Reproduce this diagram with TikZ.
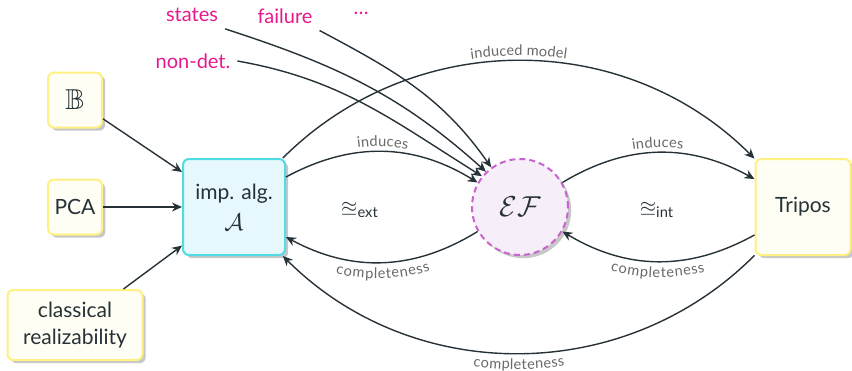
\documentclass[tikz,border=0pt]{standalone}
\usepackage{amsmath,amssymb}
\usepackage{fontspec}
\setmainfont{Lato}
\usepackage{tikz}
\usetikzlibrary{arrows.meta}
\usetikzlibrary{shadows}
\usetikzlibrary{decorations.text}
\definecolor{ink}{RGB}{38,50,56}
\definecolor{hint}{RGB}{230,25,140}
\definecolor{lblgray}{RGB}{105,105,105}
\definecolor{ylwline}{RGB}{255,240,130}
\definecolor{ylwfill}{RGB}{254,254,244}
\definecolor{cyanline}{RGB}{80,220,228}
\definecolor{cyanfill}{RGB}{230,248,252}
\definecolor{efline}{RGB}{200,100,205}
\definecolor{effill}{RGB}{246,238,248}
\newcommand{\lblfont}{\fontsize{7.3}{9}\selectfont}
\tikzset{
   boxshadow/.style={drop shadow={shadow xshift=1.6pt,shadow yshift=-1.6pt,
      fill=black!22,opacity=1}},
   srcbox/.style={draw=ylwline, fill=ylwfill, line width=1pt, rounded corners=3pt,
      text=ink, align=center, font=\fontsize{10.5}{12.5}\selectfont, boxshadow},
   algbox/.style={draw=cyanline, fill=cyanfill, line width=1pt, rounded corners=3pt,
      text=ink, align=center, minimum width=51pt, minimum height=48pt,
      font=\fontsize{10.5}{12.5}\selectfont, boxshadow},
   efnode/.style={circle, draw=efline, fill=effill, line width=1pt,
      dash pattern=on 3pt off 2pt, minimum size=48pt, text=ink,
      font=\Large, boxshadow},
   hintlbl/.style={text=hint, font=\fontsize{10}{12}\selectfont},
   link/.style={draw=ink, line width=0.7pt, -{Stealth[length=5pt,width=4.5pt]}},
   above text/.style={postaction={decorate, decoration={text along path,
      text={|\lblfont\color{lblgray}|#1}, text align=center, raise=2.5pt}}},
   below text/.style={decorate, decoration={text along path,
      text={|\lblfont\color{lblgray}|#1}, text align=center, raise=-8pt}},
}
\begin{document}
\begin{tikzpicture}[x=0.5pt,y=0.5pt]
\useasboundingbox (0,0) rectangle (852,-370);
% nodes
\node[srcbox, minimum width=27pt, minimum height=27.5pt] (bool) at (75,-100)
   {\Large$\mathbb{B}$};
\node[srcbox, minimum width=27pt, minimum height=27.5pt] (pca) at (75,-207) {PCA};
\node[srcbox, minimum width=67.5pt, minimum height=35pt] (classic) at (75,-325)
   {classical\\[1pt]realizability};
\node[algbox] (alg) at (234,-207) {imp. alg.\\[3pt]{\large$\mathcal{A}$}};
\node[efnode] (ef) at (520,-207) {$\mathcal{EF}$};
\node[srcbox, minimum width=47.5pt, minimum height=48pt] (tripos) at (803,-207) {Tripos};
% hints
\node[hintlbl] (states) at (192,-15) {states};
\node[hintlbl] (failure) at (285,-16) {failure};
\node[hintlbl] (dots) at (361,-13) {\dots};
\node[hintlbl] (nondet) at (193,-61) {non-det.};
% equivalences
\node[text=ink, font=\fontsize{10.5}{12}\selectfont] (eqext) at (360,-210) {$\approxeq_{\text{ext}}$};
\node[text=ink, font=\fontsize{10.5}{12}\selectfont] (eqint) at (657,-210) {$\approxeq_{\text{int}}$};
% inputs
\draw[link] (bool) -- (alg);
\draw[link] (pca) -- (alg);
\draw[link] (classic) -- (alg);
\draw[link] (states.south east) to[out=-18,in=138] (ef.134);
\draw[link] (failure.south east) to[out=-28,in=125] (ef.126);
\draw[link] (nondet.east) to[out=-10,in=148] (ef.141);
% arcs
\draw[link, above text=induces] (alg) to[bend left=30] (ef);
\draw[link, above text=induces] (ef) to[bend left=30] (tripos);
\draw[link, above text=induced model] (alg) to[bend left=45] (tripos);
\draw[link] (tripos) to[bend left=30] (ef);
\draw[link] (ef) to[bend left=30] (alg);
\draw[link] (tripos) to[bend left=45] (alg);
\path[below text=completeness] (alg) to[bend right=30] (ef);
\path[below text=completeness] (ef) to[bend right=30] (tripos);
\path[below text=completeness] (alg) to[bend right=45] (tripos);
\end{tikzpicture}
\end{document}
